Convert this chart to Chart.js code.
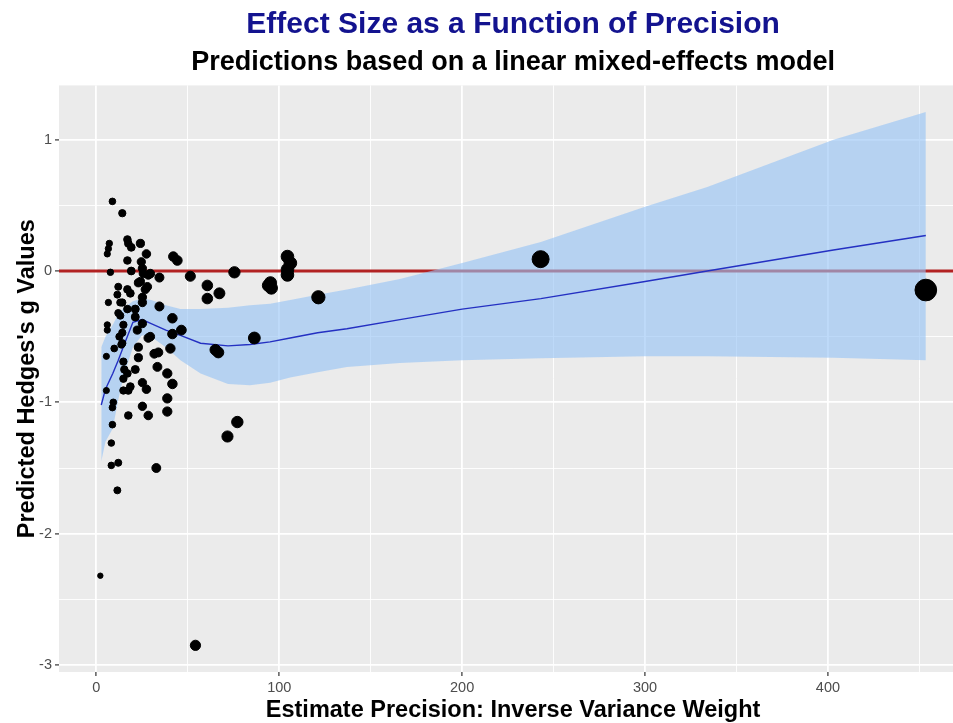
<!DOCTYPE html>
<html>
<head>
<meta charset="utf-8">
<script src="https://cdn.jsdelivr.net/npm/chart.js@4.4.1/dist/chart.umd.min.js"></script>
<style>
  html, body { margin: 0; padding: 0; background: #fff; overflow: hidden; }
  /* the original panel runs a little past the right edge of the picture */
  #wrap { width: 979px; height: 723px; }
</style>
</head>
<body>
<div id="wrap"><canvas id="precisionChart"></canvas></div>
<script>
// study estimates: precision (inverse variance weight) and Hedges's g
const precision = [
  2.2, 8.8, 14.2, 7.1, 6.6, 6.0, 7.7, 6.6, 6.0, 6.0, 5.5, 5.5, 9.3, 8.8, 8.8, 8.2, 8.2, 12.0, 11.5, 9.8,
  12.0, 11.5, 12.0, 13.1, 13.1, 12.6, 14.2, 14.8, 14.2, 14.8, 15.3, 14.8, 14.8, 13.7, 17.0, 17.5, 19.1, 24.1, 27.4, 17.0,
  24.6, 19.1, 25.2, 25.7, 28.4, 24.1, 23.0, 27.9, 17.0, 18.6, 26.8, 25.2, 25.2, 17.0, 21.3, 21.3, 22.4, 25.2, 28.4, 23.0,
  23.0, 21.3, 17.0, 25.2, 27.4, 18.6, 17.5, 25.2, 17.5, 28.4, 29.5, 34.5, 34.5, 29.5, 31.7, 33.9, 33.4, 32.8, 42.1, 44.3,
  41.6, 46.5, 41.6, 40.5, 38.8, 41.6, 38.8, 38.8, 51.4, 54.2, 60.7, 60.7, 67.3, 75.5, 65.1, 66.7, 71.7, 77.1, 86.4, 95.2,
  95.7, 94.1, 104.5, 106.1, 104.5, 104.5, 121.4, 242.9, 453.5, 14.2
];
const hedgesG = [
  -2.32, 0.53, 0.44, 0.21, 0.17, 0.13, -0.01, -0.24, -0.41, -0.45, -0.65, -0.91, -1.00, -1.04, -1.17, -1.31, -1.48, -1.46, -1.67, -0.59,
  -0.12, -0.18, -0.32, -0.34, -0.24, -0.50, -0.47, -0.41, -0.55, -0.69, -0.75, -0.82, -0.91, -0.56, 0.24, 0.21, 0.18, 0.21, 0.13, 0.08,
  0.07, 0.00, 0.02, -0.02, -0.03, -0.08, -0.09, -0.12, -0.14, -0.17, -0.14, -0.20, -0.24, -0.29, -0.29, -0.35, -0.45, -0.40, -0.51, -0.58,
  -0.66, -0.75, -0.78, -0.85, -0.90, -0.88, -0.91, -1.03, -1.10, -1.10, -0.02, -0.05, -0.27, -0.50, -0.63, -0.62, -0.73, -1.50, 0.11, 0.08,
  -0.36, -0.45, -0.48, -0.59, -0.78, -0.86, -0.97, -1.07, -0.04, -2.85, -0.11, -0.21, -0.17, -0.01, -0.60, -0.62, -1.26, -1.15, -0.51, -0.09,
  -0.13, -0.11, 0.11, 0.06, 0.01, -0.03, -0.20, 0.09, -0.145, -0.24
];

// model predictions with confidence band
const fitX = [2.7, 5, 9, 12, 15, 20, 25, 30, 38, 46, 57, 72, 84, 95, 106, 121, 137, 166, 200, 243, 300, 334, 403, 453.5];
const fitY = [-1.02, -0.90, -0.78, -0.68, -0.57, -0.39, -0.37, -0.40, -0.45, -0.49, -0.55, -0.57, -0.56, -0.54, -0.51, -0.47, -0.44, -0.37, -0.29, -0.21, -0.08, 0.00, 0.16, 0.27];
const bandUpper = [-0.58, -0.50, -0.41, -0.33, -0.28, -0.23, -0.21, -0.22, -0.26, -0.29, -0.29, -0.28, -0.26, -0.25, -0.22, -0.18, -0.14, -0.06, 0.06, 0.22, 0.49, 0.64, 1.00, 1.21];
const bandLower = [-1.45, -1.30, -1.20, -0.98, -0.80, -0.58, -0.49, -0.50, -0.58, -0.68, -0.78, -0.86, -0.87, -0.85, -0.81, -0.77, -0.73, -0.70, -0.68, -0.665, -0.65, -0.65, -0.66, -0.68];

const xTicks = [0, 50, 100, 150, 200, 250, 300, 350, 400, 450];
const yTicks = [-3, -2.5, -2, -1.5, -1, -0.5, 0, 0.5, 1];
const xRange = [-20.4, 476.1];
const yRange = [-3.053, 1.413];
const refLine = 0;

const FONT = "'Liberation Sans', Arial, sans-serif";

const pts = precision.map((x, i) => ({ x: x, y: hedgesG[i] }));
const line = (ys) => fitX.map((x, i) => ({ x: x, y: ys[i] }));
const dotSize = ctx => 2.1 + 0.41 * Math.sqrt(ctx.raw ? ctx.raw.x : 1);

// grey ggplot-like panel
const panelBg = {
  id: 'panelBg',
  beforeDraw(chart) {
    const { ctx, chartArea: a } = chart;
    ctx.save();
    ctx.fillStyle = '#fff';
    ctx.fillRect(0, 0, chart.width, chart.height);
    ctx.fillStyle = '#EBEBEB';
    ctx.fillRect(a.left, a.top, a.right - a.left, a.bottom - a.top);
    ctx.restore();
  }
};

const isMajorX = v => v % 100 === 0;
const isMajorY = v => Number.isInteger(v);

new Chart(document.getElementById('precisionChart'), {
  type: 'scatter',
  data: {
    datasets: [
      {
        label: 'studies',
        data: pts,
        backgroundColor: '#000',
        borderColor: '#000',
        pointRadius: dotSize,
        pointHoverRadius: dotSize,
        order: 0
      },
      {
        label: 'fit',
        data: line(fitY),
        showLine: true,
        borderColor: '#2430c2',
        borderWidth: 1.4,
        pointRadius: 0,
        fill: false,
        order: 1
      },
      {
        label: 'upper',
        data: line(bandUpper),
        showLine: true,
        borderWidth: 0,
        borderColor: 'rgba(0,0,0,0)',
        pointRadius: 0,
        fill: false,
        order: 2
      },
      {
        label: 'lower',
        data: line(bandLower),
        showLine: true,
        borderWidth: 0,
        borderColor: 'rgba(0,0,0,0)',
        backgroundColor: 'rgba(150,196,245,0.62)',
        pointRadius: 0,
        fill: '-1',
        order: 2
      },
      {
        label: 'zero',
        data: [{ x: xRange[0], y: refLine }, { x: xRange[1], y: refLine }],
        showLine: true,
        borderColor: '#b22222',
        borderWidth: 3,
        pointRadius: 0,
        fill: false,
        order: 3
      }
    ]
  },
  options: {
    responsive: true,
    maintainAspectRatio: false,
    animation: false,
    layout: { padding: { left: 13, right: 0, top: 0, bottom: 0 } },
    plugins: {
      legend: { display: false },
      tooltip: { enabled: false },
      title: {
        display: true,
        text: 'Effect Size as a Function of Precision',
        color: '#13138f',
        fullSize: false,
        font: { family: FONT, size: 30, weight: 'bold', lineHeight: 1.2 },
        padding: { top: 7, bottom: 3 }
      },
      subtitle: {
        display: true,
        text: 'Predictions based on a linear mixed-effects model',
        color: '#000',
        fullSize: false,
        font: { family: FONT, size: 27, weight: 'bold', lineHeight: 1.2 },
        padding: { top: 0, bottom: 7 }
      }
    },
    scales: {
      x: {
        type: 'linear',
        min: xRange[0],
        max: xRange[1],
        afterBuildTicks: s => { s.ticks = xTicks.map(v => ({ value: v })); },
        afterFit: s => { s.height = 51; },
        ticks: {
          autoSkip: false,
          maxRotation: 0,
          padding: 3,
          color: '#4D4D4D',
          font: { family: FONT, size: 14.5 },
          callback: v => (isMajorX(v) ? String(v) : '')
        },
        grid: {
          color: '#fff',
          lineWidth: c => (c.tick && isMajorX(c.tick.value) ? 1.8 : 0.9),
          tickLength: 4,
          tickWidth: 1.2,
          tickColor: c => (c.tick && isMajorX(c.tick.value) ? '#333' : 'rgba(0,0,0,0)')
        },
        border: { display: false },
        title: {
          display: true,
          text: 'Estimate Precision: Inverse Variance Weight',
          color: '#000',
          font: { family: FONT, size: 23.5, weight: 'bold', lineHeight: 1.05 },
          padding: { top: 0, bottom: 0 }
        }
      },
      y: {
        type: 'linear',
        min: yRange[0],
        max: yRange[1],
        afterBuildTicks: s => { s.ticks = yTicks.map(v => ({ value: v })); },
        afterFit: s => { s.width = 46; },
        ticks: {
          autoSkip: false,
          padding: 3,
          color: '#4D4D4D',
          font: { family: FONT, size: 14.5 },
          callback: v => (isMajorY(v) ? String(v) : '')
        },
        grid: {
          color: '#fff',
          lineWidth: c => (c.tick && isMajorY(c.tick.value) ? 1.8 : 0.9),
          tickLength: 4,
          tickWidth: 1.2,
          tickColor: c => (c.tick && isMajorY(c.tick.value) ? '#333' : 'rgba(0,0,0,0)')
        },
        border: { display: false },
        title: {
          display: true,
          text: "Predicted Hedges's g Values",
          color: '#000',
          font: { family: FONT, size: 23.5, weight: 'bold', lineHeight: 1.2 },
          padding: { top: 0, bottom: 0 }
        }
      }
    }
  },
  plugins: [panelBg]
});
</script>
</body>
</html>
